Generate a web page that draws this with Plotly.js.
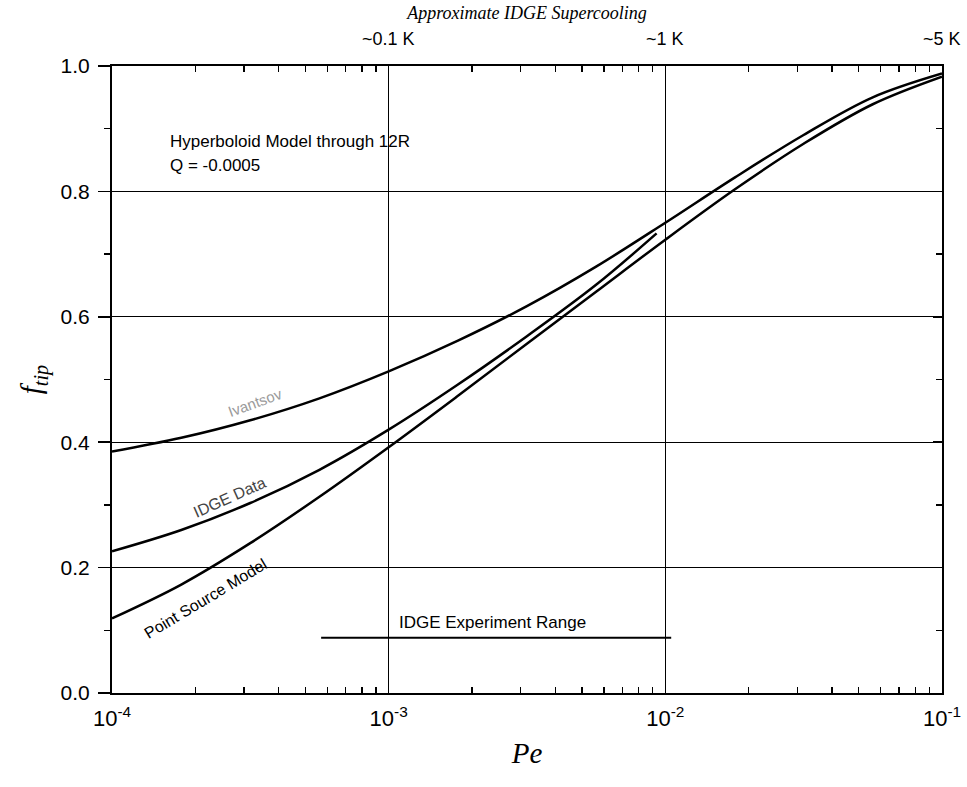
<!DOCTYPE html>
<html>
<head>
<meta charset="utf-8">
<script src="https://cdn.plot.ly/plotly-3.0.1.min.js"></script>
<style>html,body{margin:0;padding:0;background:#fff;}#chart{width:967px;height:787px;}</style>
</head>
<body>
<div id="chart"></div>
<script>
// Ivantsov curve
const ivantsovPe = [1e-4, 1.78e-4, 3.16e-4, 5.62e-4, 1e-3, 1.78e-3, 3.16e-3, 5.62e-3, 1e-2, 1.78e-2, 3.16e-2, 5.62e-2, 1e-1];
const ivantsovF  = [0.385, 0.407, 0.435, 0.470, 0.513, 0.562, 0.617, 0.680, 0.750, 0.822, 0.890, 0.950, 0.988];
// IDGE Data curve
const idgePe = [1e-4, 1.78e-4, 3.16e-4, 5.62e-4, 1e-3, 1.78e-3, 3.16e-3, 5.62e-3, 9.3e-3];
const idgeF  = [0.226, 0.260, 0.303, 0.356, 0.420, 0.492, 0.569, 0.651, 0.733];
// Point Source Model curve
const pointPe = [1e-4, 1.78e-4, 3.16e-4, 5.62e-4, 1e-3, 1.78e-3, 3.16e-3, 5.62e-3, 1e-2, 1.78e-2, 3.16e-2, 5.62e-2, 1e-1];
const pointF  = [0.119, 0.173, 0.239, 0.313, 0.392, 0.474, 0.557, 0.640, 0.723, 0.803, 0.876, 0.939, 0.983];
// IDGE experiment range bar
const rangePe = [5.7e-4, 1.05e-2];
const rangeF  = [0.088, 0.088];
// Bottom axis ticks
const xTickVals = [1e-4, 1e-3, 1e-2, 1e-1];
const xTickText = ['10<sup>-4</sup>', '10<sup>-3</sup>', '10<sup>-2</sup>', '10<sup>-1</sup>'];
// Top axis (supercooling) labels
const topPe = [1e-3, 1e-2, 1e-1];
const topLabels = ['~0.1 K', '~1 K', '~5 K'];

const sans = 'Liberation Sans, Arial, sans-serif';
const narrow = 'Liberation Sans Narrow, Arial Narrow, Liberation Sans, sans-serif';
const serif = 'Liberation Serif, Times New Roman, serif';

// minor log tick positions (2..9 within each decade of the axis)
const minorTicks = [];
for (let e = -4; e < -1; e++) {
  for (let d = 2; d <= 9; d++) minorTicks.push(d * Math.pow(10, e));
}

const lineStyle = {color: '#000', width: 2.5, shape: 'spline', smoothing: 1};

const traces = [
  {x: ivantsovPe, y: ivantsovF, mode: 'lines', line: lineStyle, hoverinfo: 'skip'},
  {x: idgePe, y: idgeF, mode: 'lines', line: lineStyle, hoverinfo: 'skip'},
  {x: pointPe, y: pointF, mode: 'lines', line: lineStyle, hoverinfo: 'skip'},
  {x: rangePe, y: rangeF, mode: 'lines', line: {color: '#000', width: 2}, hoverinfo: 'skip'},
  {x: [topPe[0]], y: [0.5], xaxis: 'x2', yaxis: 'y2', mode: 'markers', marker: {opacity: 0}, hoverinfo: 'skip'}
];

const topAnnotations = topPe.map((p, i) => ({
  xref: 'x', yref: 'paper', x: Math.log10(p), y: 1, yanchor: 'bottom', yshift: 15,
  showarrow: false, text: topLabels[i], font: {family: narrow, size: 18, color: '#000'}
}));

const logMinor = {tickmode: 'array', tickvals: minorTicks, ticks: 'inside', ticklen: 6, tickwidth: 1.3, tickcolor: '#000', showgrid: false};

const layout = {
  width: 967, height: 787,
  margin: {l: 112, r: 25, t: 66, b: 94},
  paper_bgcolor: '#fff', plot_bgcolor: '#fff',
  showlegend: false,
  xaxis: {
    type: 'log', range: [-4, -1], tickmode: 'array', tickvals: xTickVals, ticktext: xTickText,
    showgrid: true, gridcolor: '#000', gridwidth: 1.4,
    ticks: 'inside', ticklen: 10, tickwidth: 1.6, tickcolor: '#000',
    minor: logMinor,
    showline: true, linewidth: 2, linecolor: '#000', zeroline: false,
    ticklabelstandoff: 5,
    tickfont: {family: sans, size: 22, color: '#000'},
    title: {text: '<i>Pe</i>', font: {family: serif, size: 29, color: '#000'}, standoff: 12}
  },
  xaxis2: {
    type: 'log', range: [-4, -1], tickmode: 'array', tickvals: xTickVals, overlaying: 'x', side: 'top', anchor: 'y',
    showgrid: false, zeroline: false, showticklabels: false,
    ticks: 'inside', ticklen: 10, tickwidth: 1.6, tickcolor: '#000',
    minor: logMinor,
    showline: true, linewidth: 2, linecolor: '#000',
    title: {text: '<i>Approximate IDGE Supercooling</i>', font: {family: serif, size: 18, color: '#000'}, standoff: 40}
  },
  yaxis: {
    range: [0, 1], dtick: 0.2, tick0: 0, tickformat: '.1f',
    showgrid: true, gridcolor: '#000', gridwidth: 1.4,
    ticks: 'outside', ticklen: 12, tickwidth: 1.6, tickcolor: '#000',
    minor: {dtick: 0.1, ticks: 'outside', ticklen: 6, tickwidth: 1.3, tickcolor: '#000', showgrid: false},
    showline: true, linewidth: 2, linecolor: '#000', zeroline: false,
    ticklabelstandoff: 4,
    tickfont: {family: sans, size: 21, color: '#000'},
    title: {text: '<i>f</i><sub><i>tip</i></sub>', font: {family: serif, size: 29, color: '#000'}, standoff: 10}
  },
  yaxis2: {
    range: [0, 1], dtick: 0.2, tick0: 0, overlaying: 'y', side: 'right', anchor: 'x',
    showgrid: false, zeroline: false, showticklabels: false,
    ticks: 'inside', ticklen: 9, tickwidth: 1.6, tickcolor: '#000',
    minor: {dtick: 0.1, ticks: 'inside', ticklen: 6, tickwidth: 1.3, tickcolor: '#000', showgrid: false},
    showline: true, linewidth: 2, linecolor: '#000'
  },
  annotations: topAnnotations.concat([
    {xref: 'x', yref: 'y', x: -3.798, y: 0.879, xanchor: 'left', yanchor: 'middle', showarrow: false,
     text: 'Hyperboloid Model through 12R', font: {family: sans, size: 17, color: '#000'}},
    {xref: 'x', yref: 'y', x: -3.798, y: 0.841, xanchor: 'left', yanchor: 'middle', showarrow: false,
     text: 'Q = -0.0005', font: {family: sans, size: 17, color: '#000'}},
    {xref: 'x', yref: 'y', x: -3.483, y: 0.463, showarrow: false, textangle: -20,
     text: 'Ivantsov', font: {family: sans, size: 15, color: '#9a9a9a'}},
    {xref: 'x', yref: 'y', x: -3.577, y: 0.312, showarrow: false, textangle: -24,
     text: 'IDGE Data', font: {family: sans, size: 16, color: '#444'}},
    {xref: 'x', yref: 'y', x: -3.660, y: 0.150, showarrow: false, textangle: -31,
     text: 'Point Source Model', font: {family: sans, size: 16, color: '#000'}},
    {xref: 'x', yref: 'y', x: -2.623, y: 0.112, showarrow: false,
     text: 'IDGE Experiment Range', font: {family: sans, size: 17, color: '#000'}}
  ])
};

Plotly.newPlot('chart', traces, layout, {staticPlot: true, displayModeBar: false});
</script>
</body>
</html>
